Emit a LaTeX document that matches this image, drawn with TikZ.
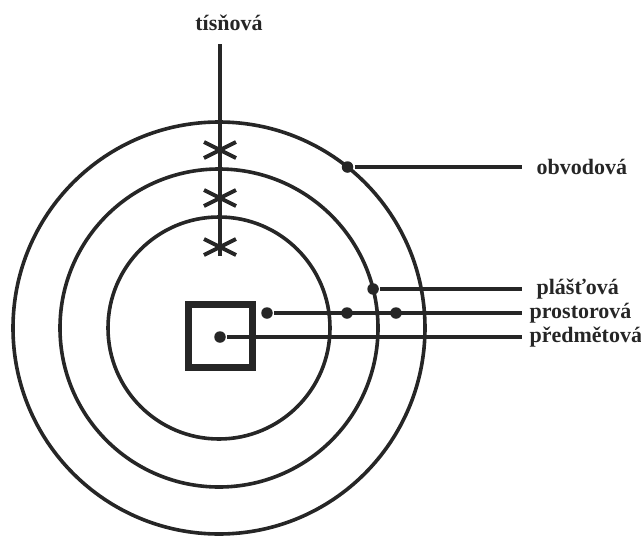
\documentclass[tikz,border=0pt]{standalone}
\usepackage{fontspec}
\setmainfont{Liberation Serif}
\begin{document}
\begin{tikzpicture}[x=1pt,y=-1pt,line width=3.2pt,color=black!85,
    dot/.style={circle,fill=black!85,inner sep=0pt,minimum size=11.5pt},
    lbl/.style={font=\fontsize{22}{24}\selectfont\bfseries,anchor=west,inner xsep=6pt,inner ysep=0pt},
    zone/.style={line width=3.6pt}]
    \useasboundingbox (0,0) rectangle (641,536);
    % three protection zones round the object
    \coordinate (c) at (219,328);
    \foreach \r in {206,159,111}
        \draw[zone] (c) circle[radius=\r pt];
    % emergency line crossing the zones
    \node[font=\fontsize{22}{24}\selectfont\bfseries] (ltis) at (229,23) {tísňová};
    \coordinate (ttop) at (220,44);
    \coordinate (tbot) at (220,256);
    \draw (ttop) -- (tbot);
    \foreach \y in {150,198,247}
        \draw[line width=4pt] (204,\y-8) -- (236,\y+8) (204,\y+8) -- (236,\y-8);
    % guarded object
    \draw[line width=7pt] (188.5,304.5) rectangle (252.5,367.5);
    % perimeter
    \node[dot] (dobv) at (347.5,167) {};
    \node[lbl,inner xsep=13pt] (lobv) at (522,167) {obvodová};
    \draw (dobv) -- (lobv.west);
    % shell
    \node[dot] (dpla) at (373.1,289) {};
    \node[lbl,inner xsep=13pt] (lpla) at (522,289) {plášťová};
    \draw (dpla) -- (lpla.west);
    % space
    \node[dot] (dpro) at (267,313) {};
    \node[lbl] (lpro) at (522,313) {prostorová};
    \draw (dpro) -- (lpro.west);
    \node[dot] (dproa) at (347,313) {};
    \node[dot] (dprob) at (396,313) {};
    % object
    \node[dot] (dpre) at (220,337) {};
    \node[lbl] (lpre) at (522,337) {předmětová};
    \draw (dpre) -- (lpre.west);
\end{tikzpicture}
\end{document}
